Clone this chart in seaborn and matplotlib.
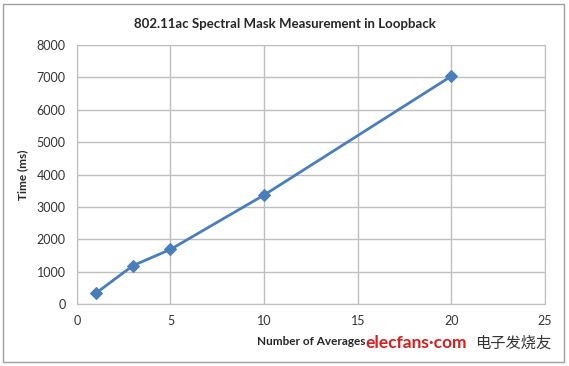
import seaborn as sns
import matplotlib.pyplot as plt
import pandas as pd
from matplotlib.patches import Rectangle

# values
averages = [1, 3, 5, 10, 20]
time_ms = [330, 1190, 1690, 3370, 7040]
x_ticks = [0, 5, 10, 15, 20, 25]
y_ticks = [0, 1000, 2000, 3000, 4000, 5000, 6000, 7000, 8000]

df = pd.DataFrame({'averages': averages, 'time': time_ms})

sns.set_style('white')
plt.rcParams['font.family'] = ['Lato', 'DejaVu Sans']

fig = plt.figure(figsize=(5.69, 3.66), dpi=100)
ax = fig.add_axes([0.135, 0.169, 0.823, 0.708])

sns.lineplot(data=df, x='averages', y='time', ax=ax, color='#4A7EBB',
             linewidth=2, marker='D', markersize=6, markeredgecolor='#4A7EBB')

ax.set_xlim(0, 25)
ax.set_ylim(0, 8000)
ax.set_xticks(x_ticks)
ax.set_yticks(y_ticks)
ax.tick_params(labelsize=9, colors='#333333', length=0, pad=8)
ax.grid(True, color='#bfbfbf', linewidth=1)
for s in ax.spines.values():
    s.set_color('#bfbfbf')

ax.set_xlabel('Number of Averages', fontsize=8.5, fontweight='bold', labelpad=6)
ax.set_ylabel('Time (ms)', fontsize=8.5, fontweight='bold', labelpad=6)
fig.text(0.5, 0.935, '802.11ac Spectral Mask Measurement in Loopback',
         ha='center', va='center', fontsize=9.5, fontweight='bold')

# outer chart border
fig.patches.append(Rectangle((0.006, 0.01), 0.985, 0.978, transform=fig.transFigure,
                             fill=False, edgecolor='#a0a0a0', linewidth=1))

# watermark
fig.text(0.643, 0.062, 'elecfans·com', color='#d42020', fontsize=12.5,
         fontweight='bold', ha='left', va='center')
fig.text(0.835, 0.062, '电子发烧友', color='#333333', fontsize=11,
         family=['Noto Sans CJK SC', 'DejaVu Sans'], ha='left', va='center')

fig.savefig('out.png', dpi=100)
